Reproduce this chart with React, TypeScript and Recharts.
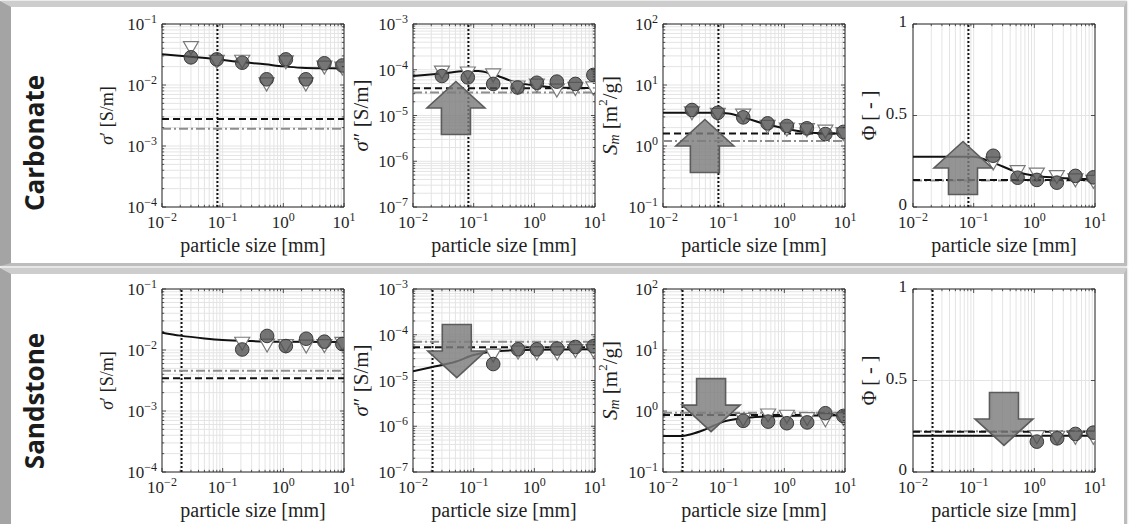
import React from 'react';
import {
  ComposedChart,
  Line,
  Scatter,
  XAxis,
  YAxis,
  CartesianGrid,
  ReferenceLine,
  ReferenceDot,
  ReferenceArea,
} from 'recharts';

const SERIF = '"Liberation Serif", "Times New Roman", serif';
const AXIS_COLOR = '#2b2b2b';
const TEXT_COLOR = '#1f1f1f';

// ---------- tick values ----------
const xMajor = [0.01, 0.1, 1, 10];
const yMajorSigRe = [1e-4, 1e-3, 1e-2, 1e-1];
const yMajorSigIm = [1e-7, 1e-6, 1e-5, 1e-4, 1e-3];
const yMajorSm = [0.1, 1, 10, 100];
const yTicksPhi = [0, 0.5, 1];

// ---------- Carbonate data ----------
const carbSizes = [0.03, 0.08, 0.21, 0.53, 1.1, 2.35, 4.75, 9.4];
const carbSizesPhi = [0.21, 0.53, 1.1, 2.35, 4.75, 9.4];

const carbSigReCircle = [0.0284, 0.0263, 0.0232, 0.0124, 0.0263, 0.0124, 0.0227, 0.0209];
const carbSigReTri = [0.041, 0.0244, 0.0245, 0.0104, 0.024, 0.0104, 0.0197, 0.019];
const carbSigReModelX = [0.01, 0.03, 0.08, 0.2, 0.5, 1, 2, 5, 10];
const carbSigReModelY = [0.0318, 0.029, 0.0265, 0.0238, 0.0218, 0.0202, 0.0192, 0.0188, 0.0187];

const carbSigImCircle = [7.3e-5, 6.8e-5, 4.9e-5, 4.1e-5, 5.2e-5, 5.5e-5, 4.9e-5, 7.7e-5];
const carbSigImTri = [8.9e-5, 8.5e-5, 7.7e-5, 4.2e-5, 4.6e-5, 3.6e-5, 3.9e-5, 4.0e-5];
const carbSigImModelX = [0.01, 0.03, 0.08, 0.12, 0.2, 0.5, 1.1, 2.3, 10];
const carbSigImModelY = [7.3e-5, 8.3e-5, 9.4e-5, 9.4e-5, 8.1e-5, 5.3e-5, 4.5e-5, 4.1e-5, 4.0e-5];

const carbSmCircle = [3.89, 3.5, 2.95, 2.35, 2.13, 1.95, 1.57, 1.7];
const carbSmTri = [3.5, 3.3, 3.2, 2.1, 1.9, 1.85, 1.75, 1.6];
const carbSmModelX = [0.01, 0.08, 0.12, 0.2, 0.5, 1, 2, 5, 10];
const carbSmModelY = [3.5, 3.5, 3.4, 3.0, 2.27, 1.95, 1.71, 1.6, 1.6];

const carbPhiCircle = [0.28, 0.16, 0.148, 0.133, 0.17, 0.162];
const carbPhiTri = [0.24, 0.193, 0.18, 0.166, 0.148, 0.14];
const carbPhiModelX = [0.01, 0.1, 0.2, 0.5, 1, 2.4, 10];
const carbPhiModelY = [0.275, 0.275, 0.245, 0.193, 0.171, 0.16, 0.151];

// horizontal reference levels: [dashed black, dash-dot gray]
const carbSigReLevels = [0.00277, 0.00192];
const carbSigImLevels = [3.93e-5, 3.2e-5];
const carbSmLevels = [1.61, 1.21];
const carbPhiLevels = [0.148, 0.145];
const carbCutoff = 0.082;

// ---------- Sandstone data ----------
const sandSizes = [0.21, 0.54, 1.1, 2.38, 4.75, 9.4];
const sandSizesPhi = [1.1, 2.38, 4.75, 9.4];

const sandSigReCircle = [0.0102, 0.017, 0.0116, 0.0153, 0.0137, 0.0125];
const sandSigReTri = [0.0129, 0.012, 0.0118, 0.0116, 0.0118, 0.0128];
const sandSigReModelX = [0.01, 0.02, 0.05, 0.1, 0.3, 1, 10];
const sandSigReModelY = [0.0192, 0.0172, 0.0155, 0.0146, 0.014, 0.0137, 0.0135];

const sandSigImCircle = [2.29e-5, 4.8e-5, 4.8e-5, 5.0e-5, 5.4e-5, 5.6e-5];
const sandSigImTri = [3.6e-5, 4.2e-5, 4.0e-5, 4.0e-5, 4.5e-5, 4.5e-5];
const sandSigImModelX = [0.01, 0.02, 0.05, 0.1, 0.2, 0.5, 1, 10];
const sandSigImModelY = [1.6e-5, 1.95e-5, 2.57e-5, 3.6e-5, 4.3e-5, 4.6e-5, 4.7e-5, 4.8e-5];

const sandSmCircle = [0.69, 0.67, 0.63, 0.65, 0.92, 0.83];
const sandSmTri = [0.73, 0.86, 0.82, 0.75, 0.72, 0.75];
const sandSmModelX = [0.01, 0.021, 0.03, 0.05, 0.1, 0.2, 0.5, 1, 10];
const sandSmModelY = [0.39, 0.39, 0.42, 0.5, 0.67, 0.76, 0.81, 0.83, 0.85];

const sandPhiCircle = [0.166, 0.184, 0.208, 0.215];
const sandPhiTri = [0.193, 0.19, 0.19, 0.19];
const sandPhiModelX = [0.01, 10];
const sandPhiModelY = [0.198, 0.198];

const sandSigReLevels = [0.00344, 0.00457];
const sandSigImLevels = [5.3e-5, 7.0e-5];
const sandSmLevels = [0.86, 0.94];
const sandPhiLevels = [0.22, 0.222];
const sandCutoff = 0.021;

// arrows (centre in data coordinates)
const carbArrows = [null, { x: 0.051, y: 1.46e-5 }, { x: 0.049, y: 1.0 }, { x: 0.0667, y: 0.213 }];
const sandArrows = [null, { x: 0.0527, y: 4.4e-5 }, { x: 0.062, y: 1.25 }, { x: 0.316, y: 0.29 }];

// ---------- layout ----------
const PLOT_W = 182;
const PLOT_H = 183;
const CH_LEFT = 90;
const CH_TOP = 22;
const CH_RIGHT = 24;
const CH_BOTTOM = 62;
const CHART_W = CH_LEFT + PLOT_W + CH_RIGHT;
const CHART_H = CH_TOP + PLOT_H + CH_BOTTOM;
const X_TICK_MARGIN = 20;
const Y_TICK_MARGIN = 5;
const PLOT_LEFTS = [162, 413, 663, 913];
const PLOT_TOPS = [24, 289];

const withMinor = (major: number[]) => {
  const out: number[] = [];
  for (let i = 0; i < major.length - 1; i++) {
    for (let k = 1; k < 10; k++) out.push(major[i] * k);
  }
  out.push(major[major.length - 1]);
  return out;
};

const isPow10 = (v: number) => {
  if (v <= 0) return false;
  const l = Math.log10(v);
  return Math.abs(l - Math.round(l)) < 1e-6;
};
const expStr = (v: number) => {
  const e = Math.round(Math.log10(v));
  return e < 0 ? '\u2212' + -e : String(e);
};

const zip = (xs: number[], ys: number[]) => xs.map((x, i) => ({ x, y: ys[i] }));

function XTick(props: any) {
  const { x, y, payload } = props;
  const v = payload.value;
  const major = isPow10(v);
  const axisY = y - X_TICK_MARGIN;
  const len = major ? 4 : 2.2;
  return (
    <g>
      <line x1={x} x2={x} y1={axisY} y2={axisY - len} stroke={AXIS_COLOR} strokeWidth={0.8} />
      <line x1={x} x2={x} y1={axisY - PLOT_H} y2={axisY - PLOT_H + len} stroke={AXIS_COLOR} strokeWidth={0.8} />
      {major && (
        <text x={x} y={y + 1} textAnchor="middle" fontFamily={SERIF} fontSize={17} fill={TEXT_COLOR}>
          10
          <tspan dy={-7} fontSize={12}>
            {expStr(v)}
          </tspan>
        </text>
      )}
    </g>
  );
}

function YLogTick(props: any) {
  const { x, y, payload } = props;
  const v = payload.value;
  const major = isPow10(v);
  const axisX = x + Y_TICK_MARGIN;
  const len = major ? 4 : 2.2;
  return (
    <g>
      <line x1={axisX} x2={axisX + len} y1={y} y2={y} stroke={AXIS_COLOR} strokeWidth={0.8} />
      <line x1={axisX + PLOT_W} x2={axisX + PLOT_W - len} y1={y} y2={y} stroke={AXIS_COLOR} strokeWidth={0.8} />
      {major && (
        <text x={x} y={y + 6} textAnchor="end" fontFamily={SERIF} fontSize={17} fill={TEXT_COLOR}>
          10
          <tspan dy={-7} fontSize={12}>
            {expStr(v)}
          </tspan>
        </text>
      )}
    </g>
  );
}

function YLinTick(props: any) {
  const { x, y, payload } = props;
  const v = payload.value;
  const axisX = x + Y_TICK_MARGIN;
  return (
    <g>
      <line x1={axisX} x2={axisX + 4} y1={y} y2={y} stroke={AXIS_COLOR} strokeWidth={0.8} />
      <line x1={axisX + PLOT_W} x2={axisX + PLOT_W - 4} y1={y} y2={y} stroke={AXIS_COLOR} strokeWidth={0.8} />
      <text x={x - 1} y={y + 3} textAnchor="end" fontFamily={SERIF} fontSize={17} fill={TEXT_COLOR}>
        {String(v)}
      </text>
    </g>
  );
}

const CircleMarker = (p: any) => {
  const { cx, cy } = p;
  if (cx == null || cy == null) return null;
  return <circle cx={cx} cy={cy} r={6.8} fill="#4e4e4e" fillOpacity={0.78} stroke="#3a3a3a" strokeWidth={1} />;
};

const TriMarker = (p: any) => {
  const { cx, cy } = p;
  if (cx == null || cy == null) return null;
  const pts = `${cx - 7.5},${cy - 6} ${cx + 7.5},${cy - 6} ${cx},${cy + 7}`;
  return <polygon points={pts} fill="#ffffff" stroke="#7a7a7a" strokeWidth={1.2} />;
};

const makeArrow = (dir: 'up' | 'down') => (p: any) => {
  const { cx, cy } = p;
  if (cx == null || cy == null) return null;
  const hw = 29;
  const sw = 14.5;
  const hh = 26.5;
  const s = dir === 'up' ? 1 : -1;
  const pts = [
    [cx, cy - s * hh],
    [cx + hw, cy],
    [cx + sw, cy],
    [cx + sw, cy + s * hh],
    [cx - sw, cy + s * hh],
    [cx - sw, cy],
    [cx - hw, cy],
  ];
  return (
    <polygon
      points={pts.map((q) => q.join(',')).join(' ')}
      fill="#7c7c7c"
      fillOpacity={0.82}
      stroke="#5c5c5c"
      strokeWidth={1.6}
    />
  );
};

const genV = (vals: number[]) => (args: any) => {
  try {
    const s = args.xAxis.scale;
    return vals.map((v) => s(v));
  } catch (e) {
    return [];
  }
};
const genH = (vals: number[]) => (args: any) => {
  try {
    const s = args.yAxis.scale;
    return vals.map((v) => s(v));
  } catch (e) {
    return [];
  }
};

type PanelSpec = {
  left: number;
  top: number;
  yLog: boolean;
  yMajor: number[];
  yLabel: React.ReactNode;
  yLabelSize: number;
  yLabelOffset: number;
  xs: number[];
  circles: number[];
  tris: number[];
  modelX: number[];
  modelY: number[];
  levels: number[];
  cutoff: number;
  arrow: { x: number; y: number } | null;
  arrowDir: 'up' | 'down';
};

function Panel({ spec }: { spec: PanelSpec }) {
  const yDomain: [number, number] = [spec.yMajor[0], spec.yMajor[spec.yMajor.length - 1]];
  const yTicks = spec.yLog ? withMinor(spec.yMajor) : spec.yMajor;
  const xTicks = withMinor(xMajor);
  const circleData = zip(spec.xs, spec.circles);
  const triData = zip(spec.xs, spec.tris);
  const modelData = zip(spec.modelX, spec.modelY);

  const yLabelRenderer = (props: any) => {
    const vb = props.viewBox || {};
    const cx = (vb.x ?? 0) + (vb.width ?? CH_LEFT) - spec.yLabelOffset;
    const cy = (vb.y ?? CH_TOP) + (vb.height ?? PLOT_H) / 2;
    return (
      <text
        x={cx}
        y={cy}
        transform={`rotate(-90 ${cx} ${cy})`}
        textAnchor="middle"
        dominantBaseline="central"
        fontFamily={SERIF}
        fontSize={spec.yLabelSize}
        fill={TEXT_COLOR}
      >
        {spec.yLabel}
      </text>
    );
  };

  const xLabelRenderer = (props: any) => {
    const vb = props.viewBox || {};
    const cx = (vb.x ?? CH_LEFT) + (vb.width ?? PLOT_W) / 2;
    const cy = (vb.y ?? CH_TOP + PLOT_H) + 45;
    return (
      <text x={cx} y={cy} textAnchor="middle" fontFamily={SERIF} fontSize={20} fill={TEXT_COLOR}>
        particle size [mm]
      </text>
    );
  };

  return (
    <div style={{ position: 'absolute', left: spec.left - CH_LEFT, top: spec.top - CH_TOP }}>
      <ComposedChart
        width={CHART_W}
        height={CHART_H}
        margin={{ top: CH_TOP, right: CH_RIGHT, bottom: 0, left: 0 }}
      >
        <CartesianGrid stroke="#e4e4e4" strokeWidth={1} />
        <CartesianGrid
          stroke="#cccccc"
          strokeWidth={1}
          verticalCoordinatesGenerator={genV(xMajor)}
          horizontalCoordinatesGenerator={genH(spec.yMajor)}
        />
        <XAxis
          dataKey="x"
          type="number"
          scale="log"
          domain={[0.01, 10]}
          allowDataOverflow
          ticks={xTicks}
          interval={0}
          tick={<XTick />}
          tickLine={false}
          tickSize={0}
          tickMargin={X_TICK_MARGIN}
          axisLine={false}
          height={CH_BOTTOM}
          label={xLabelRenderer}
        />
        <YAxis
          type="number"
          scale={spec.yLog ? 'log' : 'linear'}
          domain={yDomain}
          allowDataOverflow
          ticks={yTicks}
          interval={0}
          tick={spec.yLog ? <YLogTick /> : <YLinTick />}
          tickLine={false}
          tickSize={0}
          tickMargin={Y_TICK_MARGIN}
          axisLine={false}
          width={CH_LEFT}
          label={yLabelRenderer}
        />
        <ReferenceArea
          x1={0.01}
          x2={10}
          y1={yDomain[0]}
          y2={yDomain[1]}
          fill="none"
          fillOpacity={0}
          stroke={AXIS_COLOR}
          strokeWidth={1}
          ifOverflow="visible"
        />
        <ReferenceLine x={spec.cutoff} stroke="#111" strokeWidth={2} strokeDasharray="2 2" />
        <ReferenceLine y={spec.levels[1]} stroke="#8e8e8e" strokeWidth={2} strokeDasharray="9 3 2 3" />
        <ReferenceLine y={spec.levels[0]} stroke="#111" strokeWidth={2} strokeDasharray="7 4" />
        <Line
          data={modelData}
          dataKey="y"
          type="monotone"
          stroke="#111"
          strokeWidth={2}
          dot={false}
          activeDot={false}
          isAnimationActive={false}
        />
        <Scatter data={triData} dataKey="y" shape={TriMarker} isAnimationActive={false} />
        <Scatter data={circleData} dataKey="y" shape={CircleMarker} isAnimationActive={false} />
        {spec.arrow && (
          <ReferenceDot x={spec.arrow.x} y={spec.arrow.y} r={1} shape={makeArrow(spec.arrowDir)} />
        )}
      </ComposedChart>
    </div>
  );
}

const sigReLabel = (
  <>
    <tspan fontStyle="italic">σ</tspan>′ [S/m]
  </>
);
const sigImLabel = (
  <>
    <tspan fontStyle="italic">σ</tspan>″ [S/m]
  </>
);
const smLabel = (
  <>
    <tspan fontStyle="italic">S</tspan>
    <tspan fontStyle="italic" fontSize={14} dy={4}>
      m
    </tspan>
    <tspan dy={-4}> [m</tspan>
    <tspan fontSize={13} dy={-8}>
      2
    </tspan>
    <tspan dy={8}>/g]</tspan>
  </>
);
const phiLabel = <>Φ [ - ]</>;

const labels = [sigReLabel, sigImLabel, smLabel, phiLabel];
const labelSizes = [18, 21, 21, 20];
const labelOffsets = [55, 52, 53, 44];
const yMajors = [yMajorSigRe, yMajorSigIm, yMajorSm, yTicksPhi];
const yLogs = [true, true, true, false];

const carbSeries = [
  { xs: carbSizes, c: carbSigReCircle, t: carbSigReTri, mx: carbSigReModelX, my: carbSigReModelY, lv: carbSigReLevels },
  { xs: carbSizes, c: carbSigImCircle, t: carbSigImTri, mx: carbSigImModelX, my: carbSigImModelY, lv: carbSigImLevels },
  { xs: carbSizes, c: carbSmCircle, t: carbSmTri, mx: carbSmModelX, my: carbSmModelY, lv: carbSmLevels },
  { xs: carbSizesPhi, c: carbPhiCircle, t: carbPhiTri, mx: carbPhiModelX, my: carbPhiModelY, lv: carbPhiLevels },
];
const sandSeries = [
  { xs: sandSizes, c: sandSigReCircle, t: sandSigReTri, mx: sandSigReModelX, my: sandSigReModelY, lv: sandSigReLevels },
  { xs: sandSizes, c: sandSigImCircle, t: sandSigImTri, mx: sandSigImModelX, my: sandSigImModelY, lv: sandSigImLevels },
  { xs: sandSizes, c: sandSmCircle, t: sandSmTri, mx: sandSmModelX, my: sandSmModelY, lv: sandSmLevels },
  { xs: sandSizesPhi, c: sandPhiCircle, t: sandPhiTri, mx: sandPhiModelX, my: sandPhiModelY, lv: sandPhiLevels },
];

const buildSpecs = (): PanelSpec[] => {
  const specs: PanelSpec[] = [];
  [carbSeries, sandSeries].forEach((rowSeries, r) => {
    rowSeries.forEach((s, i) => {
      specs.push({
        left: PLOT_LEFTS[i],
        top: PLOT_TOPS[r],
        yLog: yLogs[i],
        yMajor: yMajors[i],
        yLabel: labels[i],
        yLabelSize: labelSizes[i],
        yLabelOffset: labelOffsets[i],
        xs: s.xs,
        circles: s.c,
        tris: s.t,
        modelX: s.mx,
        modelY: s.my,
        levels: s.lv,
        cutoff: r === 0 ? carbCutoff : sandCutoff,
        arrow: r === 0 ? carbArrows[i] : sandArrows[i],
        arrowDir: r === 0 ? 'up' : 'down',
      });
    });
  });
  return specs;
};

function Frame({ top, height }: { top: number; height: number }) {
  return (
    <div
      style={{
        position: 'absolute',
        left: 0,
        top,
        width: 1127,
        height,
        boxSizing: 'border-box',
        borderTop: '6px solid #cdcdcd',
        borderLeft: '11px solid #a4a4a4',
        borderRight: '3px solid #bcbcbc',
        borderBottom: '3px solid #bdbdbd',
        boxShadow: '0 0 2px rgba(0,0,0,0.25)',
        background: '#ffffff',
      }}
    />
  );
}

function RowLabel({ text, cy }: { text: string; cy: number }) {
  return (
    <div
      style={{
        position: 'absolute',
        left: 34,
        top: cy,
        transform: 'translate(-50%, -50%) rotate(-90deg)',
        fontFamily: '"Open Sans", "Noto Sans", sans-serif',
        fontWeight: 700,
        fontSize: 26,
        lineHeight: '30px',
        whiteSpace: 'nowrap',
        color: '#1c1c1c',
      }}
    >
      {text}
    </div>
  );
}

export default function App() {
  const specs = buildSpecs();
  return (
    <div
      style={{
        position: 'absolute',
        left: 0,
        top: 0,
        width: 1129,
        height: 524,
        overflow: 'hidden',
        background: '#ffffff',
      }}
    >
      <Frame top={1} height={265} />
      <Frame top={268} height={262} />
      <RowLabel text="Carbonate" cy={143} />
      <RowLabel text="Sandstone" cy={401} />
      {specs.map((s, i) => (
        <Panel key={i} spec={s} />
      ))}
    </div>
  );
}
